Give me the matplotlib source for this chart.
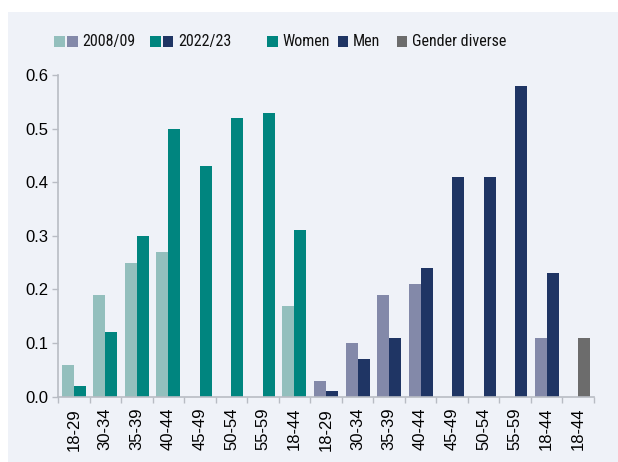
import matplotlib
matplotlib.use("Agg")
import matplotlib.pyplot as plt
import numpy as np
from matplotlib.patches import Rectangle

# ---- data ----
age_labels = ["18-29", "30-34", "35-39", "40-44", "45-49", "50-54", "55-59", "18-44",
              "18-29", "30-34", "35-39", "40-44", "45-49", "50-54", "55-59", "18-44",
              "18-44"]
women_2008 = [0.06, 0.19, 0.25, 0.27, None, None, None, 0.17]
women_2022 = [0.02, 0.12, 0.30, 0.50, 0.43, 0.52, 0.53, 0.31]
men_2008 = [0.03, 0.10, 0.19, 0.21, None, None, None, 0.11]
men_2022 = [0.01, 0.07, 0.11, 0.24, 0.41, 0.41, 0.58, 0.23]
diverse_2022 = [0.11]
y_ticks = [0.0, 0.1, 0.2, 0.3, 0.4, 0.5, 0.6]
legend_labels = ["2008/09", "2022/23", "Women", "Men", "Gender diverse"]

# ---- styles ----
C_W08 = "#93bfbd"
C_W22 = "#00857f"
C_M08 = "#8389a9"
C_M22 = "#1f3564"
C_GD = "#6c6c6c"
BG = "#eff2f8"
AXC = "#b8bcc4"

LEG_FONT = "Roboto Condensed"
TICK_FONT = "Liberation Sans"

W, H = 618, 462
fig = plt.figure(figsize=(W / 100, H / 100), dpi=100)
fig.patch.set_facecolor("white")
fig.patches.append(Rectangle((8 / W, 0), 1, 1 - 12 / H, transform=fig.transFigure,
                             facecolor=BG, edgecolor="none", zorder=-10))

ax = fig.add_axes([58 / W, 1 - 396.7 / H, (594 - 58) / W, (396.7 - 75) / H])
ax.set_facecolor(BG)

n = len(age_labels)
x = np.arange(n)
bw = 0.38
off = 0.19

def bars(xs, vals, dx, color):
    xs2 = [xx for xx, v in zip(xs, vals) if v is not None]
    vs2 = [v for v in vals if v is not None]
    ax.bar(np.array(xs2) + dx, vs2, width=bw, color=color, linewidth=0)

bars(x[0:8], women_2008, -off, C_W08)
bars(x[0:8], women_2022, off, C_W22)
bars(x[8:16], men_2008, -off, C_M08)
bars(x[8:16], men_2022, off, C_M22)
bars(x[16:17], diverse_2022, off, C_GD)

ax.set_xlim(-0.5, n - 0.5)
ax.set_ylim(0, 0.6)
ax.set_yticks(y_ticks)
ax.set_yticklabels([f"{t:.1f}" for t in y_ticks], fontfamily=TICK_FONT, fontsize=12)
ax.set_xticks(x)
ax.set_xticklabels(age_labels, rotation=90, fontfamily=TICK_FONT, fontsize=12)
ax.set_xticks(np.arange(n + 1) - 0.5, minor=True)
ax.tick_params(axis="x", which="major", length=0, pad=8)
ax.tick_params(axis="x", which="minor", length=4, color=AXC, width=1)
ax.tick_params(axis="y", length=4, color=AXC, width=1, pad=3)

for s in ["top", "right"]:
    ax.spines[s].set_visible(False)
for s in ["left", "bottom"]:
    ax.spines[s].set_color(AXC)
    ax.spines[s].set_linewidth(1.2)

# ---- legend (manual) ----
def patch(x0, color):
    fig.patches.append(Rectangle((x0 / W, 1 - 46.7 / H), 10.5 / W, 11 / H,
                                 transform=fig.transFigure, facecolor=color,
                                 edgecolor="none"))

def label(x0, s):
    fig.text(x0 / W, 1 - 41.3 / H, s, fontfamily=LEG_FONT, fontsize=11.5,
             va="center", ha="left", color="#111111")

patch(54, C_W08); patch(67, C_M08); label(82.5, legend_labels[0])
patch(150, C_W22); patch(162.5, C_M22); label(178, legend_labels[1])
patch(267.3, C_W22); label(282.5, legend_labels[2])
patch(337.7, C_M22); label(352.5, legend_labels[3])
patch(396.7, C_GD); label(411.5, legend_labels[4])

fig.savefig("out.png", dpi=100, facecolor="white")
